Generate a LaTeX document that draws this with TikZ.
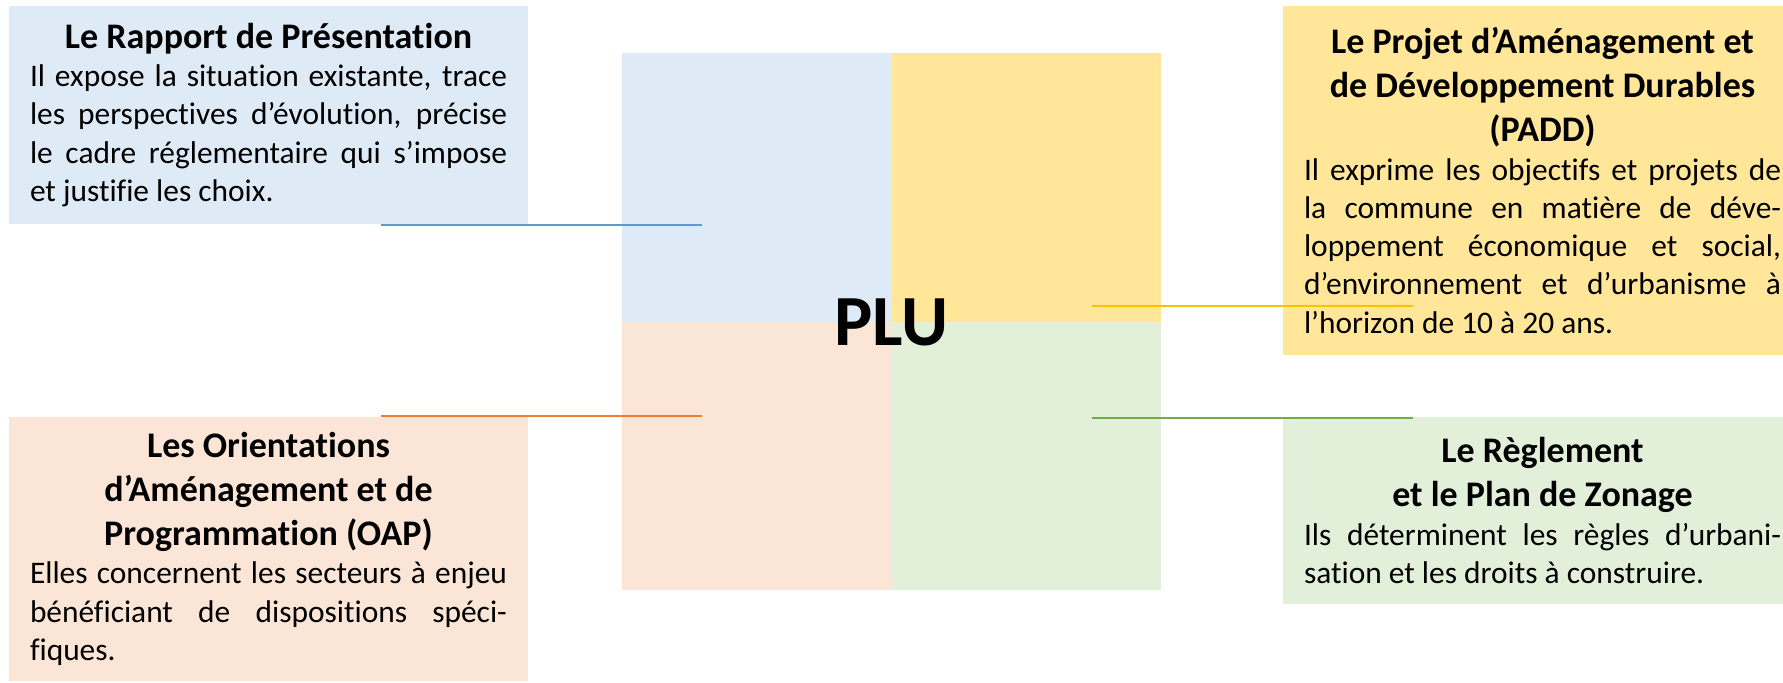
\documentclass[tikz,border=0pt]{standalone}
\usepackage{fontspec}
\setmainfont{Carlito}[Ligatures=NoCommon]
\definecolor{fillblue}{HTML}{DEEBF7}
\definecolor{fillyellow}{HTML}{FFE699}
\definecolor{fillorange}{HTML}{FBE5D6}
\definecolor{fillgreen}{HTML}{E2F0D9}
\definecolor{lineblue}{HTML}{5B9BD5}
\definecolor{lineorange}{HTML}{ED7D31}
\definecolor{lineyellow}{HTML}{FFC000}
\definecolor{linegreen}{HTML}{70AD47}
% one fully justified line of body text
\newcommand\jline[1]{\makebox[\linewidth][s]{#1}\par}
% a plain (last) line of body text
\newcommand\lline[1]{\makebox[\linewidth][l]{#1}\par}
\newcommand\boxtitle[1]{\begingroup\centering\bfseries\fontsize{36bp}{44bp}\selectfont #1\par\endgroup}
\begin{document}
\begin{tikzpicture}[x=1bp,y=-1bp,
  quadrant/.style={fill=#1, draw=none, inner sep=0pt, outer sep=0pt, anchor=north west,
    minimum width=269.5bp},
  infobox/.style={fill=#1, draw=none, anchor=north west, inner xsep=21bp, inner ysep=0pt,
    outer sep=0pt, text width=477bp, minimum width=519bp, align=justify,
    font=\fontsize{31.4bp}{38.3bp}\selectfont},
  leader/.style={draw=#1, line width=2bp}]
\useasboundingbox (0,0) rectangle (1783,683);

% central square made of four coloured quadrants
\node[quadrant=fillblue,   minimum height=269bp] (qtl) at (622,53) {};
\node[quadrant=fillyellow, minimum height=269bp] (qtr) at (891.5,53) {};
\node[quadrant=fillorange, minimum height=268bp] (qbl) at (622,322) {};
\node[quadrant=fillgreen,  minimum height=268bp] (qbr) at (891.5,322) {};
\node[font=\bfseries\fontsize{72bp}{72bp}\selectfont, inner sep=0pt] (plu) at (891.5,322) {PLU};

% the four documents of the PLU
\node[infobox=fillblue, minimum height=218bp] (rapport) at (9,6) {%
  \parindent=0pt
  \boxtitle{Le Rapport de Présentation}
  \jline{Il expose la situation existante, trace}
  \jline{les perspectives d’évolution, précise}
  \jline{le cadre réglementaire qui s’impose}
  \lline{et justifie les choix.}};

\node[infobox=fillyellow, minimum height=349bp] (padd) at (1283,6) {%
  \parindent=0pt
  \boxtitle{Le Projet d’Aménagement et\\de Développement Durables\\(PADD)}
  \jline{Il exprime les objectifs et projets de}
  \jline{la commune en matière de déve-}
  \jline{loppement économique et social,}
  \jline{d’environnement et d’urbanisme à}
  \lline{l’horizon de 10 à 20 ans.}};

\node[infobox=fillorange, minimum height=264bp] (oap) at (9,417) {%
  \parindent=0pt
  \boxtitle{Les Orientations\\d’Aménagement et de\\Programmation (OAP)}
  \jline{Elles concernent les secteurs à enjeu}
  \jline{bénéficiant de dispositions spéci-}
  \lline{fiques.}};

\node[infobox=fillgreen, minimum height=187bp] (reglement) at (1283,417) {%
  \parindent=0pt
  \boxtitle{Le Règlement\\et le Plan de Zonage}
  \jline{Ils déterminent les règles d’urbani-}
  \lline{sation et les droits à construire.}};

% leader lines between the documents and the square
\coordinate (rapportEnd) at (381,225);
\coordinate (qtlEnd) at (702,225);
\coordinate (oapEnd) at (381,416);
\coordinate (qblEnd) at (702,416);
\coordinate (paddEnd) at (1413,306);
\coordinate (qtrEnd) at (1092,306);
\coordinate (reglementEnd) at (1413,418);
\coordinate (qbrEnd) at (1092,418);
\draw[leader=lineblue]   (rapportEnd) -- (qtlEnd);
\draw[leader=lineorange] (oapEnd) -- (qblEnd);
\draw[leader=lineyellow] (paddEnd) -- (qtrEnd);
\draw[leader=linegreen]  (reglementEnd) -- (qbrEnd);
\end{tikzpicture}
\end{document}
